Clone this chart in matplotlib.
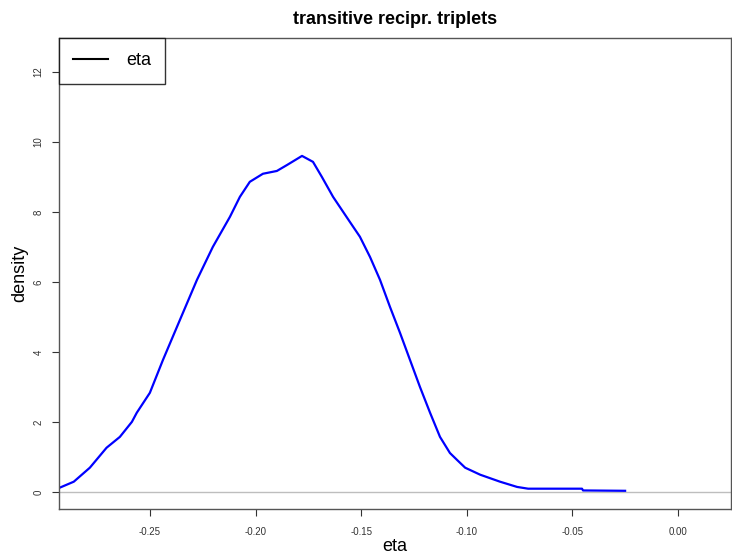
import matplotlib.pyplot as plt
from matplotlib.lines import Line2D

plt.rcParams['font.family'] = ['Liberation Sans', 'DejaVu Sans']

# kernel density estimate of eta
eta = [-0.2930, -0.2860, -0.2784, -0.2705, -0.2642, -0.2585, -0.2562, -0.2500,
       -0.2438, -0.2358, -0.2277, -0.2202, -0.2121, -0.2074, -0.2027, -0.1965,
       -0.1899, -0.1851, -0.1780, -0.1728, -0.1686, -0.1633, -0.1553, -0.1506,
       -0.1458, -0.1411, -0.1364, -0.1316, -0.1269, -0.1222, -0.1174, -0.1127,
       -0.1080, -0.1046, -0.1008, -0.0937, -0.0843, -0.0762, -0.0710, -0.0455,
       -0.0450, -0.0251]
density = [0.11, 0.29, 0.69, 1.26, 1.57, 2.00, 2.26, 2.83,
           3.77, 4.91, 6.06, 7.00, 7.86, 8.43, 8.86, 9.09,
           9.17, 9.34, 9.60, 9.43, 9.00, 8.43, 7.71, 7.29,
           6.71, 6.06, 5.29, 4.54, 3.77, 3.00, 2.26, 1.57,
           1.11, 0.91, 0.69, 0.49, 0.29, 0.14, 0.09, 0.09,
           0.04, 0.03]

xticks = [-0.25, -0.20, -0.15, -0.10, -0.05, 0.00]
yticks = [0, 2, 4, 6, 8, 10, 12]

fig = plt.figure(figsize=(7.32, 5.57), dpi=100)
ax = fig.add_axes([0.0806, 0.0862, 0.918, 0.8456])

ax.axhline(0, color='#bebebe', linewidth=1.0)
ax.plot(eta, density, color='#0000ff', linewidth=1.6)

ax.set_xlim(-0.293, 0.025)
ax.set_ylim(-0.49, 12.97)
ax.set_xticks(xticks)
ax.set_xticklabels([f'{t:.2f}' for t in xticks])
ax.set_yticks(yticks)
ax.set_yticklabels([str(t) for t in yticks], rotation=90, va='center')
ax.tick_params(labelsize=7, length=5, color='#333333', labelcolor='#333333')
ax.tick_params(axis='x', pad=8)
ax.tick_params(axis='y', pad=6)

for s in ax.spines.values():
    s.set_color('#555555')
    s.set_linewidth(1.0)

ax.set_title('transitive recipr. triplets', fontsize=13, fontweight='bold', pad=10)
ax.set_xlabel('eta', fontsize=13, labelpad=1)
ax.set_ylabel('density', fontsize=13, labelpad=4)

handle = Line2D([], [], color='black', linewidth=1.5)
leg = ax.legend([handle], ['eta'], loc='upper left', fontsize=13,
                frameon=True, fancybox=False, borderaxespad=0,
                handlelength=1.9, borderpad=0.8, handletextpad=1.0)
leg.get_frame().set_edgecolor('black')
leg.get_frame().set_linewidth(1.0)

fig.savefig('out.png', dpi=100)
